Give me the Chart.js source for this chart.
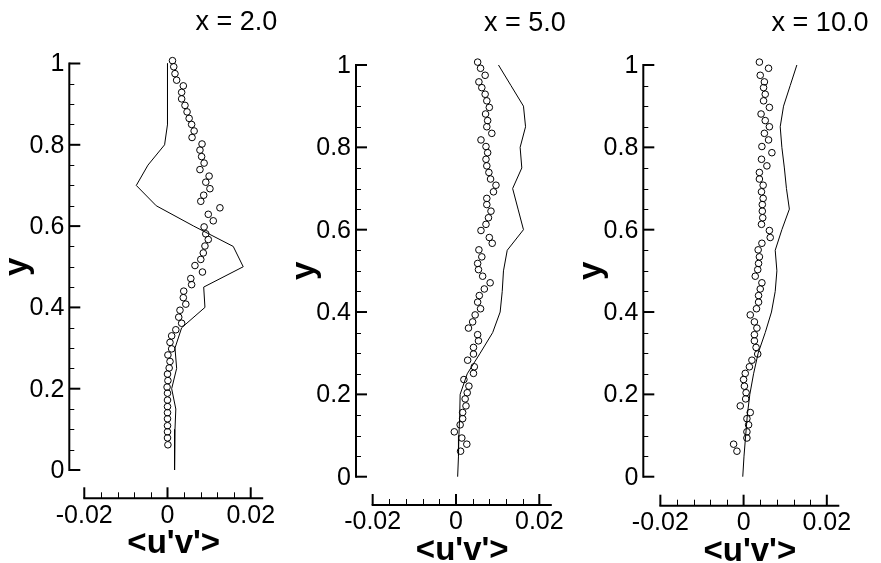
<!DOCTYPE html>
<html>
<head>
<meta charset="utf-8">
<script src="https://cdn.jsdelivr.net/npm/chart.js@4.4.0/dist/chart.umd.min.js"></script>
<style>
  html, body { margin: 0; padding: 0; background: #fff; }
  body { width: 881px; height: 563px; position: relative; overflow: hidden; }
  canvas { position: absolute; top: 0; }
</style>
</head>
<body>
<canvas id="c1" width="290" height="563" style="left:0px"></canvas>
<canvas id="c2" width="290" height="563" style="left:290px"></canvas>
<canvas id="c3" width="301" height="563" style="left:580px"></canvas>
<script>
// measured points (y is shared by all three stations)
const expY = [1.007, 0.992, 0.975, 0.959, 0.945, 0.929, 0.913, 0.897, 0.881, 0.865,
  0.850, 0.834, 0.818, 0.802, 0.787, 0.771, 0.755, 0.739, 0.723, 0.708,
  0.692, 0.676, 0.661, 0.645, 0.629, 0.613, 0.598, 0.581, 0.567, 0.551,
  0.534, 0.518, 0.503, 0.487, 0.471, 0.456, 0.440, 0.424, 0.408, 0.393,
  0.376, 0.361, 0.345, 0.330, 0.314, 0.298, 0.283, 0.267, 0.251, 0.236,
  0.220, 0.204, 0.189, 0.172, 0.156, 0.141, 0.126, 0.109, 0.094, 0.079, 0.062];

const expX2 = [0.0012, 0.0015, 0.0018, 0.0022, 0.0038, 0.0034, 0.0034, 0.0042, 0.0047, 0.0052,
  0.0058, 0.0064, 0.0059, 0.0083, 0.0078, 0.0082, 0.0088, 0.0078, 0.0100, 0.0092,
  0.0102, 0.0087, 0.0080, 0.0126, 0.0098, 0.0110, 0.0088, 0.0092, 0.0098, 0.0090,
  0.0086, 0.0080, 0.0066, 0.0084, 0.0056, 0.0058, 0.0039, 0.0038, 0.0044, 0.0030,
  0.0027, 0.0034, 0.0020, 0.0010, 0.0006, 0.0010, 0.0001, 0.0006, 0.0004, 0.0000,
  0.0001, -0.0001, 0.0000, 0.0000, 0.0000, 0.0000, 0.0000, 0.0000, 0.0000, 0.0000, 0.0001];

const expX5 = [0.0052, 0.0059, 0.0070, 0.0055, 0.0062, 0.0070, 0.0074, 0.0080, 0.0071, 0.0076,
  0.0074, 0.0086, 0.0060, 0.0072, 0.0076, 0.0072, 0.0074, 0.0079, 0.0083, 0.0096,
  0.0090, 0.0074, 0.0074, 0.0084, 0.0078, 0.0072, 0.0060, 0.0080, 0.0087, 0.0055,
  0.0062, 0.0052, 0.0054, 0.0064, 0.0082, 0.0068, 0.0056, 0.0052, 0.0059, 0.0046,
  0.0040, 0.0030, 0.0052, 0.0054, 0.0042, 0.0042, 0.0028, 0.0044, 0.0042, 0.0019,
  0.0031, 0.0027, 0.0022, 0.0024, 0.0016, 0.0016, 0.0010, -0.0004, 0.0014, 0.0026, 0.0011];

const expX10 = [0.0038, 0.0060, 0.0040, 0.0050, 0.0048, 0.0052, 0.0048, 0.0062, 0.0042, 0.0052,
  0.0062, 0.0050, 0.0060, 0.0044, 0.0068, 0.0043, 0.0056, 0.0038, 0.0038, 0.0047,
  0.0043, 0.0047, 0.0045, 0.0045, 0.0046, 0.0043, 0.0062, 0.0064, 0.0044, 0.0035,
  0.0038, 0.0036, 0.0034, 0.0028, 0.0044, 0.0040, 0.0036, 0.0036, 0.0031, 0.0016,
  0.0026, 0.0032, 0.0026, 0.0026, 0.0030, 0.0034, 0.0020, 0.0014, 0.0004, 0.0000,
  0.0002, 0.0006, 0.0005, -0.0008, 0.0016, 0.0008, 0.0012, 0.0008, 0.0008, -0.0024, -0.0016];

// computed profiles (solid lines)
const simY = [1.0, 0.95, 0.9, 0.85, 0.8, 0.75, 0.7, 0.65, 0.6, 0.55, 0.5,
  0.45, 0.4, 0.35, 0.3, 0.25, 0.2, 0.15, 0.1, 0.05, 0.0];
const simX2 = [0.0, 0.0, 0.0, 0.0, -0.0007, -0.0047, -0.0075, -0.0027, 0.0063, 0.0158, 0.0182,
  0.0087, 0.0090, 0.0034, 0.0018, 0.0022, 0.0010, 0.0020, 0.0018, 0.0016, 0.0018];
const simX5 = [0.0102, 0.0132, 0.0162, 0.0167, 0.0154, 0.0158, 0.0136, 0.0149, 0.0162, 0.0123, 0.0114,
  0.0111, 0.0106, 0.0088, 0.0058, 0.0027, 0.0010, 0.0009, 0.0007, 0.0006, 0.0004];
const simX10 = [0.0128, 0.0112, 0.0096, 0.0088, 0.0092, 0.0098, 0.0103, 0.0110, 0.0092, 0.0076, 0.0080,
  0.0076, 0.0067, 0.0052, 0.0035, 0.0024, 0.0015, 0.0009, 0.0005, 0.0001, -0.0002];

const stations = ['x = 2.0', 'x = 5.0', 'x = 10.0'];

const yTickValues = [0, 0.2, 0.4, 0.6, 0.8, 1];
const yTickLabels = ['0', '0.2', '0.4', '0.6', '0.8', '1'];
const yMinorTicks = [0.05, 0.1, 0.15, 0.25, 0.3, 0.35, 0.45, 0.5, 0.55, 0.65, 0.7, 0.75, 0.85, 0.9, 0.95];
const xTickValues = [-0.02, 0, 0.02];
const xTickLabels = ['-0.02', '0', '0.02'];
const xMinorTicks = [-0.016, -0.012, -0.008, -0.004, 0.004, 0.008, 0.012, 0.016];
const xAxisEnd = 0.023;

const FONT = '"Liberation Sans", Arial, Helvetica, sans-serif';

function toPoints(xs, ys) {
    return xs.map((v, i) => ({ x: v, y: ys[i] }));
}

// tecplot-like frame: y axis 0..1 on the left, x axis detached below, ticks pointing inward
const frameAxes = {
    id: 'frameAxes',
    afterDraw(chart, args, opts) {
        const ctx = chart.ctx;
        const sx = chart.scales.x;
        const sy = chart.scales.y;
        const left = chart.chartArea.left;
        const bottom = chart.chartArea.bottom;
        const y0 = sy.getPixelForValue(0);
        const y1 = sy.getPixelForValue(1);

        ctx.save();
        ctx.strokeStyle = '#000';
        ctx.fillStyle = '#000';

        // y axis
        ctx.lineWidth = 2;
        ctx.beginPath();
        ctx.moveTo(left, y0 + 1);
        ctx.lineTo(left, y1 - 1);
        ctx.stroke();

        ctx.lineWidth = 1;
        yMinorTicks.forEach(v => {
            const p = Math.round(sy.getPixelForValue(v)) + 0.5;
            ctx.beginPath();
            ctx.moveTo(left, p);
            ctx.lineTo(left + 5, p);
            ctx.stroke();
        });
        ctx.lineWidth = 2;
        ctx.font = '25px ' + FONT;
        ctx.textAlign = 'right';
        ctx.textBaseline = 'middle';
        yTickValues.forEach((v, i) => {
            const p = sy.getPixelForValue(v);
            ctx.beginPath();
            ctx.moveTo(left, p);
            ctx.lineTo(left + 11, p);
            ctx.stroke();
            ctx.fillText(yTickLabels[i], left - 5, p + 1);
        });

        // x axis
        const xa = sx.getPixelForValue(xTickValues[0]);
        const xb = sx.getPixelForValue(xAxisEnd);
        ctx.lineWidth = 2;
        ctx.beginPath();
        ctx.moveTo(xa - 1, bottom);
        ctx.lineTo(xb, bottom);
        ctx.stroke();

        ctx.lineWidth = 1;
        xMinorTicks.forEach(v => {
            const p = Math.round(sx.getPixelForValue(v)) + 0.5;
            ctx.beginPath();
            ctx.moveTo(p, bottom);
            ctx.lineTo(p, bottom - 6);
            ctx.stroke();
        });
        ctx.lineWidth = 2;
        ctx.textAlign = 'center';
        ctx.textBaseline = 'top';
        xTickValues.forEach((v, i) => {
            const p = sx.getPixelForValue(v);
            ctx.beginPath();
            ctx.moveTo(p, bottom);
            ctx.lineTo(p, bottom - 11);
            ctx.stroke();
            ctx.fillText(xTickLabels[i], p, bottom + 5);
        });

        // axis titles
        ctx.font = 'bold 33px ' + FONT;
        ctx.textBaseline = 'middle';
        ctx.fillText("<u'v'>", (xa + xb) / 2, bottom + 46);

        ctx.save();
        ctx.translate(left - 42, (y0 + y1) / 2);
        ctx.rotate(-Math.PI / 2);
        ctx.textBaseline = 'alphabetic';
        ctx.fillText('y', 0, 0);
        ctx.restore();

        // station label
        ctx.font = '27px ' + FONT;
        ctx.textAlign = 'left';
        ctx.textBaseline = 'alphabetic';
        ctx.fillText(opts.label, sx.getPixelForValue(0) + 28, y1 - 34);

        ctx.restore();
    }
};

function makePanel(canvasId, label, simX, expX, box) {
    const ctx = document.getElementById(canvasId).getContext('2d');
    return new Chart(ctx, {
        type: 'scatter',
        data: {
            datasets: [
                {
                    data: toPoints(simX, simY),
                    showLine: true,
                    borderColor: '#000',
                    borderWidth: 1,
                    pointRadius: 0,
                    clip: false
                },
                {
                    data: toPoints(expX, expY),
                    showLine: false,
                    pointStyle: 'circle',
                    pointRadius: 3.3,
                    borderColor: '#000',
                    backgroundColor: 'rgba(255,255,255,0)',
                    borderWidth: 1,
                    clip: false
                }
            ]
        },
        options: {
            responsive: false,
            animation: false,
            layout: { padding: box.padding },
            scales: {
                x: { type: 'linear', display: false, min: box.xMin, max: xAxisEnd },
                y: { type: 'linear', display: false, min: box.yMin, max: 1 }
            },
            plugins: {
                legend: { display: false },
                tooltip: { enabled: false },
                title: { display: false },
                frameAxes: { label: label }
            }
        },
        plugins: [frameAxes]
    });
}

makePanel('c1', stations[0], simX2, expX2,
    { padding: { left: 69.3, right: 26.8, top: 63.5, bottom: 64.7 }, xMin: -0.0236, yMin: -0.0696 });
makePanel('c2', stations[1], simX5, expX5,
    { padding: { left: 66, right: 28.2, top: 65, bottom: 58 }, xMin: -0.024, yMin: -0.0687 });
makePanel('c3', stations[2], simX10, expX10,
    { padding: { left: 63.3, right: 41.7, top: 65, bottom: 57.3 }, xMin: -0.0241, yMin: -0.0704 });
</script>
</body>
</html>
